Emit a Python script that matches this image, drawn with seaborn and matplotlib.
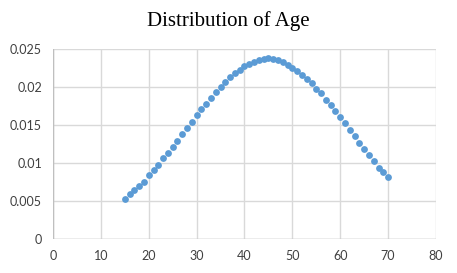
import matplotlib
matplotlib.use("Agg")
import matplotlib.pyplot as plt
import seaborn as sns
import pandas as pd

# Age values and their density
ages = list(range(15, 71))
density = [
    0.0052, 0.0059, 0.0064, 0.0070, 0.0075, 0.0084, 0.0091, 0.0097, 0.0106, 0.0113,
    0.0121, 0.0129, 0.0138, 0.0146, 0.0154, 0.0163, 0.0171, 0.0177, 0.0185, 0.0194,
    0.0200, 0.0207, 0.0213, 0.0219, 0.0223, 0.0227, 0.0230, 0.0233, 0.0235, 0.0237,
    0.0238, 0.0237, 0.0235, 0.0233, 0.0229, 0.0225, 0.0221, 0.0216, 0.0211, 0.0205,
    0.0198, 0.0192, 0.0183, 0.0176, 0.0168, 0.0160, 0.0152, 0.0143, 0.0135, 0.0126,
    0.0118, 0.0111, 0.0103, 0.0094, 0.0088, 0.0081,
]
x_ticks = [0, 10, 20, 30, 40, 50, 60, 70, 80]
y_ticks = [0, 0.005, 0.01, 0.015, 0.02, 0.025]
y_tick_labels = ["0", "0.005", "0.01", "0.015", "0.02", "0.025"]

df = pd.DataFrame({"age": ages, "density": density})

sns.set_style("white")
plt.rcParams["font.family"] = ["Lato", "DejaVu Sans"]

fig = plt.figure(figsize=(4.57, 2.73), dpi=100)
ax = fig.add_axes([0.116, 0.1245, 0.838, 0.696])

sns.scatterplot(data=df, x="age", y="density", ax=ax, color="#5B9BD5",
                s=24, linewidth=0, zorder=3)

ax.set_xlim(0, 80)
ax.set_ylim(0, 0.025)
ax.set_xticks(x_ticks)
ax.set_yticks(y_ticks)
ax.set_yticklabels(y_tick_labels)
ax.grid(True, color="#d9d9d9", linewidth=1)
for side in ["top", "right", "left", "bottom"]:
    ax.spines[side].set_visible(False)
ax.axhline(0, color="#bfbfbf", linewidth=1, zorder=2)
ax.axvline(0, color="#bfbfbf", linewidth=1, zorder=2)
ax.tick_params(axis="both", length=0, labelsize=9, colors="#404040", pad=8)
ax.set_xlabel("")
ax.set_ylabel("")

fig.text(0.5, 0.922, "Distribution of Age", ha="center", va="center",
         fontsize=15, family="Liberation Serif", color="#000000")

fig.savefig("out.png", dpi=100)
